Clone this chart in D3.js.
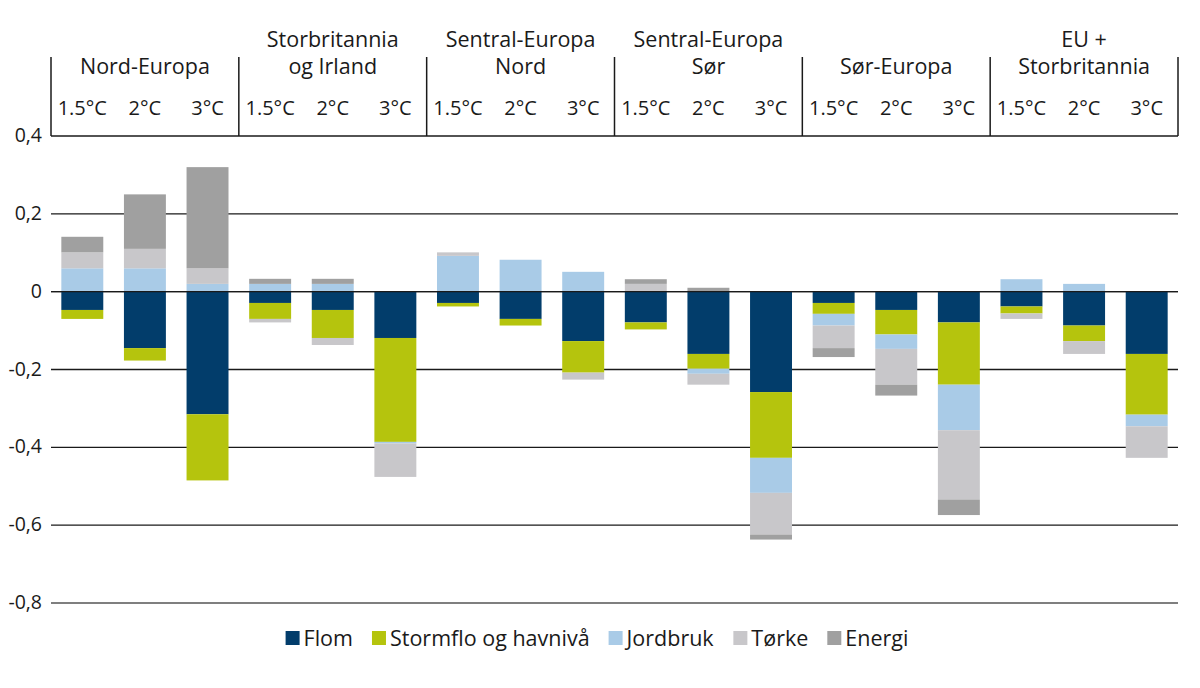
<!DOCTYPE html>
<html>
<head>
<meta charset="utf-8">
<script src="https://cdn.jsdelivr.net/npm/d3@7"></script>
<style>
  body { margin: 0; background: #fff; }
  svg { font-family: "Open Sans", sans-serif; }
</style>
</head>
<body>
<div id="chart"></div>
<script>
// regions and scenarios
const regions = [["", "Nord-Europa"], ["Storbritannia", "og Irland"], ["Sentral-Europa", "Nord"],
  ["Sentral-Europa", "Sør"], ["", "Sør-Europa"], ["EU +", "Storbritannia"]]
const scenarios = ["1.5°C", "2°C", "3°C"]
const seriesNames = ["Flom", "Stormflo og havnivå", "Jordbruk", "Tørke", "Energi"]
const colors = ["#023d6b", "#b5c40d", "#a9cbe7", "#c8c7ca", "#a0a0a0"]
const yTicks = [0.4, 0.2, 0, -0.2, -0.4, -0.6, -0.8]

// values, one per bar (region x scenario)
const flom = [-0.047, -0.145, -0.315, -0.029, -0.047, -0.119, -0.029, -0.07, -0.127,
  -0.079, -0.16, -0.258, -0.029, -0.047, -0.079, -0.038, -0.087, -0.16]
const stormflo = [-0.023, -0.032, -0.17, -0.041, -0.072, -0.267, -0.009, -0.017, -0.081,
  -0.018, -0.038, -0.169, -0.028, -0.063, -0.16, -0.018, -0.04, -0.156]
const jordbruk = [0.06, 0.06, 0.02, 0.02, 0.02, -0.004, 0.092, 0.082, 0.051,
  0, -0.013, -0.09, -0.03, -0.037, -0.117, 0.032, 0.02, -0.03]
const torke = [0.041, 0.05, 0.04, -0.009, -0.018, -0.086, 0.009, 0, -0.018,
  0.02, -0.028, -0.107, -0.058, -0.092, -0.178, -0.014, -0.033, -0.081]
const energi = [0.04, 0.14, 0.26, 0.013, 0.013, 0, 0, 0, 0,
  0.012, 0.01, -0.013, -0.023, -0.028, -0.04, 0, 0, 0]

const W = 1200, H = 688
const LEFT = 51, RIGHT = 1178

const rows = []
regions.forEach((r, i) => scenarios.forEach((s, j) => {
  const k = i * 3 + j
  rows.push({ key: k, region: i, scenario: s,
    "Flom": flom[k], "Stormflo og havnivå": stormflo[k], "Jordbruk": jordbruk[k],
    "Tørke": torke[k], "Energi": energi[k] })
}))

const svg = d3.select("#chart").append("svg").attr("width", W).attr("height", H)

const x = d3.scaleBand().domain(rows.map(d => d.key)).range([LEFT, RIGHT])
  .paddingInner(0.33).paddingOuter(0.165)
const y = d3.scaleLinear().domain([-0.8, 0.4]).range([603, 136])

// gridlines
svg.append("g").selectAll("line").data(yTicks).join("line")
  .attr("x1", LEFT).attr("x2", RIGHT)
  .attr("y1", d => y(d)).attr("y2", d => y(d))
  .attr("stroke", d => d === -0.8 ? "#555" : "#1a1a1a")
  .attr("stroke-width", 1.3)

svg.append("g").selectAll("text").data(yTicks).join("text")
  .attr("x", 42).attr("y", d => y(d) + 6)
  .attr("text-anchor", "end").attr("font-size", 19.5).attr("fill", "#1a1a1a")
  .text(d => d3.format(".1f")(d).replace(".", ",").replace("0,0", "0").replace("−", "-"))

// stacked bars
const stack = d3.stack().keys(seriesNames).offset(d3.stackOffsetDiverging)
const layers = stack(rows)

svg.append("g").selectAll("g").data(layers).join("g")
  .attr("fill", (d, i) => colors[i])
  .selectAll("rect").data(d => d).join("rect")
  .attr("x", d => x(d.data.key))
  .attr("width", x.bandwidth())
  .attr("y", d => y(Math.max(d[0], d[1])))
  .attr("height", d => Math.abs(y(d[0]) - y(d[1])))

// zero line on top
svg.append("line").attr("x1", LEFT).attr("x2", RIGHT)
  .attr("y1", y(0)).attr("y2", y(0)).attr("stroke", "#1a1a1a").attr("stroke-width", 1.3)

// header with group separators
const groupEdge = i => i === 0 ? LEFT : (i === regions.length ? RIGHT :
  (x(i * 3 - 1) + x.bandwidth() + x(i * 3)) / 2)
const header = svg.append("g")
header.selectAll("line").data(d3.range(regions.length + 1)).join("line")
  .attr("x1", groupEdge).attr("x2", groupEdge)
  .attr("y1", 57).attr("y2", y(0.4))
  .attr("stroke", "#1a1a1a").attr("stroke-width", 1.5)

// region names, one text per line
const regionLines = []
regions.forEach((d, i) => d.forEach((line, l) => {
  if (line) regionLines.push({ i, l, line })
}))
header.selectAll("text.region").data(regionLines).join("text")
  .attr("class", "region")
  .attr("x", d => (groupEdge(d.i) + groupEdge(d.i + 1)) / 2)
  .attr("y", d => d.l === 0 ? 47 : 74)
  .attr("text-anchor", "middle").attr("font-size", 21.5).attr("fill", "#1a1a1a")
  .text(d => d.line)

header.selectAll("text.scen").data(rows).join("text")
  .attr("class", "scen")
  .attr("x", d => x(d.key) + x.bandwidth() / 2)
  .attr("y", 115)
  .attr("text-anchor", "middle").attr("font-size", 20).attr("fill", "#1a1a1a")
  .text(d => d.scenario)

// legend
const legend = svg.append("g")
const items = legend.selectAll("g").data(seriesNames).join("g")
items.append("rect").attr("width", 14).attr("height", 14).attr("y", -15)
  .attr("fill", (d, i) => colors[i])
items.append("text").attr("x", 18).attr("font-size", 21.5).attr("fill", "#1a1a1a").text(d => d)
let cx = 0
items.each(function () {
  d3.select(this).attr("transform", `translate(${cx},0)`)
  cx += this.getBBox().width + 19
})
legend.attr("transform", `translate(${(W - cx + 19) / 2 - 3},646)`)
</script>
</body>
</html>
